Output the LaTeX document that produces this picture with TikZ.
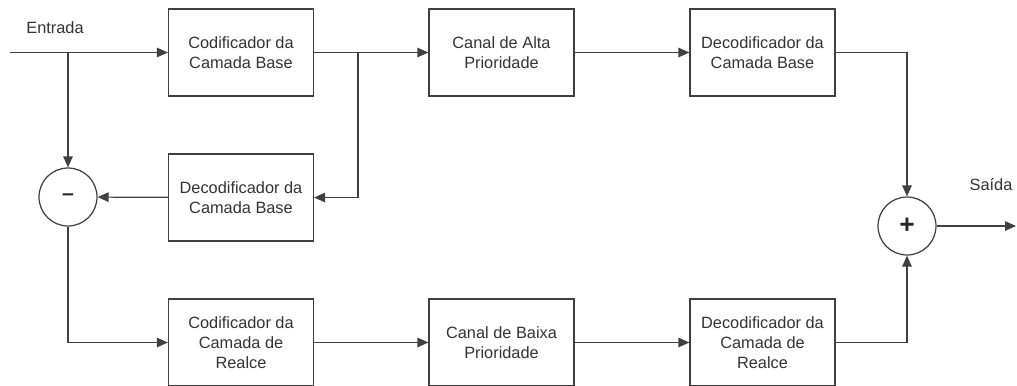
\documentclass[tikz,border=0pt]{standalone}
\usepackage{fontspec}
\setmainfont{Liberation Sans}
\usetikzlibrary{arrows.meta}
\tikzset{
  bloco/.style={draw=black!75, line width=0.7pt, minimum width=2.9cm, minimum height=1.74cm, align=center,
    font=\fontsize{9.3}{11.4}\selectfont, text=black!80},
  soma/.style={circle, draw=black!75, line width=0.7pt, minimum size=1.16cm, inner sep=0pt,
    font=\fontsize{15}{15}\selectfont\bfseries, text=black!85},
  rotulo/.style={font=\fontsize{9.3}{11.4}\selectfont, text=black!80},
  seta/.style={draw=black!75, line width=0.7pt, -{Triangle[length=0.22cm,width=0.19cm]}},
}
\begin{document}
\begin{tikzpicture}
\useasboundingbox (0,0) rectangle (20.34,-7.7);
% linha de cima
\node[bloco] (codbase) at (4.82,-1.05) {Codificador da\\Camada Base};
\node[bloco] (altaprio) at (10.03,-1.05) {Canal de Alta\\Prioridade};
\node[bloco] (decbase) at (15.25,-1.05) {Decodificador da\\Camada Base};
% realimentacao
\node[bloco] (decbase2) at (4.82,-3.95) {Decodificador da\\Camada Base};
\node[soma] (menos) at (1.36,-3.94) {\fontsize{12}{12}\selectfont\bfseries –};
% linha de baixo
\node[bloco] (codrealce) at (4.82,-6.85) {Codificador da\\Camada de\\Realce};
\node[bloco] (baixaprio) at (10.03,-6.85) {Canal de Baixa\\Prioridade};
\node[bloco] (decrealce) at (15.25,-6.85) {Decodificador da\\Camada de\\Realce};
\node[soma] (mais) at (18.14,-4.52) {+};
% rotulos
\node[rotulo] (lblentrada) at (1.1,-0.56) {Entrada};
\node[rotulo] (lblsaida) at (19.82,-3.7) {Saída};
\coordinate (entrada) at (0.2,-1.05);
\coordinate (ramo1) at (1.36,-1.05);
\coordinate (ramo2) at (7.16,-1.05);
\coordinate (saida) at (20.32,-4.52);
% ligacoes
\draw[seta] (entrada) -- (codbase);
\draw[seta] (ramo1) -- (menos);
\draw[seta] (codbase) -- (altaprio);
\draw[seta] (ramo2) |- (decbase2);
\draw[seta] (decbase2) -- (menos);
\draw[seta] (menos) |- (codrealce);
\draw[seta] (codrealce) -- (baixaprio);
\draw[seta] (baixaprio) -- (decrealce);
\draw[seta] (altaprio) -- (decbase);
\draw[seta] (decbase) -| (mais);
\draw[seta] (decrealce) -| (mais);
\draw[seta] (mais) -- (saida);
\end{tikzpicture}
\end{document}
